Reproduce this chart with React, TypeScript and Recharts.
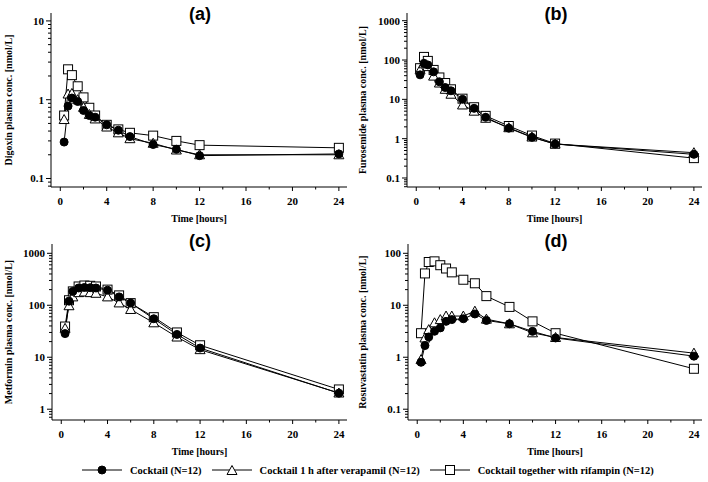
import React from 'react';
import { LineChart, Line, XAxis, YAxis } from 'recharts';

// sampling times [hours]
const times = [0.33, 0.67, 1, 1.5, 2, 2.5, 3, 4, 5, 6, 8, 10, 12, 24];

// (a) digoxin [nmol/L]
const digoxinCocktail = [0.29, 0.83, 1.05, 0.95, 0.73, 0.63, 0.6, 0.48, 0.41, 0.34, 0.27, 0.235, 0.195, 0.205];
const digoxinVerapamil = [0.56, 1.18, 1.2, 1.0, 0.8, 0.65, 0.57, 0.45, 0.38, 0.32, 0.28, 0.23, 0.2, 0.2];
const digoxinRifampin = [0.63, 2.43, 2.05, 1.48, 1.07, 0.79, 0.63, 0.48, 0.42, 0.38, 0.35, 0.3, 0.265, 0.245];

// (b) furosemide [nmol/L]
const furosemideCocktail = [42, 82, 75, 50, 28, 20, 16.5, 10, 5.9, 3.5, 1.85, 1.08, 0.73, 0.4];
const furosemideVerapamil = [56, 80, 68, 39, 26, 18, 13.5, 7.2, 5, 3.3, 1.9, 1.1, 0.73, 0.44];
const furosemideRifampin = [62, 120, 95, 56, 36, 26, 18, 10.4, 6.3, 3.8, 2.1, 1.2, 0.75, 0.32];

// (c) metformin [nmol/L]
const metforminCocktail = [28.5, 120, 185, 215, 220, 218, 215, 195, 145, 110, 55, 27.5, 15, 2.03];
const metforminVerapamil = [36, 98, 145, 175, 180, 175, 170, 145, 111, 83, 46, 24.5, 14, 2.05];
const metforminRifampin = [39, 125, 185, 230, 240, 237, 230, 200, 155, 110, 59, 30, 17, 2.4];

// (d) rosuvastatin [nmol/L]
const rosuvastatinCocktail = [0.8, 1.68, 2.46, 3.16, 3.67, 4.9, 5.3, 5.5, 6.8, 5.1, 4.4, 3.15, 2.35, 1.05];
const rosuvastatinVerapamil = [0.9, 2.35, 3.4, 4.6, 5.3, 6.2, 6.2, 6.2, 7.7, 5.4, 4.4, 2.95, 2.4, 1.2];
const rosuvastatinRifampin = [2.9, 41, 68, 70, 59, 51, 43, 31, 26.5, 15, 9.3, 4.9, 2.9, 0.6];

const seriesNames = ['Cocktail (N=12)', 'Cocktail 1 h after verapamil (N=12)', 'Cocktail together with rifampin (N=12)'];

const hourTicks = [0, 2, 4, 6, 8, 10, 12, 14, 16, 18, 20, 22, 24];

const serif = '"Liberation Serif", "Times New Roman", serif';
const sans = '"Liberation Sans", Arial, sans-serif';

const withMinors = (majors: number[], domain: [number, number]) => {
  const out: number[] = [];
  majors.forEach((m) => {
    for (let k = 1; k <= 9; k++) {
      const v = m * k;
      if (v >= domain[0] && v <= domain[1]) out.push(v);
    }
    for (let k = 2; k <= 9; k++) {
      const v = (m / 10) * k;
      if (v >= domain[0] && v <= domain[1] && !out.includes(v)) out.push(v);
    }
  });
  return out.sort((a, b) => a - b);
};

const isDecade = (v: number) => Math.abs(Math.log10(v) - Math.round(Math.log10(v))) < 1e-6;

const YTick = (props: any) => {
  const { x, y, payload } = props;
  const major = isDecade(payload.value);
  return (
    <g>
      <line x1={x} x2={x - (major ? 5 : 3)} y1={y} y2={y} stroke="#000" strokeWidth={1} />
      {major && (
        <text x={x - 7} y={y} dy={4} textAnchor="end" fontFamily={serif} fontWeight="bold" fontSize={11} fill="#000">
          {payload.value}
        </text>
      )}
    </g>
  );
};

const XTick = (props: any) => {
  const { x, y, payload } = props;
  const major = payload.value % 4 === 0;
  return (
    <g>
      <line x1={x} x2={x} y1={y} y2={y + (major ? 4 : 2.5)} stroke="#000" strokeWidth={1} />
      {major && (
        <text x={x} y={y + 18} textAnchor="middle" fontFamily={serif} fontWeight="bold" fontSize={11} fill="#000">
          {payload.value}
        </text>
      )}
    </g>
  );
};

const circleDot = (p: any) => <circle key={`c${p.index}`} cx={p.cx} cy={p.cy} r={4} fill="#000" stroke="#000" />;
const triangleDot = (p: any) => (
  <polygon
    key={`t${p.index}`}
    points={`${p.cx},${p.cy - 5} ${p.cx - 5},${p.cy + 4} ${p.cx + 5},${p.cy + 4}`}
    fill="#fff"
    stroke="#000"
    strokeWidth={1}
  />
);
const squareDot = (p: any) => (
  <rect key={`s${p.index}`} x={p.cx - 4.5} y={p.cy - 4.5} width={9} height={9} fill="#fff" stroke="#000" strokeWidth={1} />
);

interface PanelProps {
  left: number;
  top: number;
  title: string;
  yLabel: string;
  yDomain: [number, number];
  yMajors: number[];
  cocktail: number[];
  verapamil: number[];
  rifampin: number[];
  yAxisWidth: number;
  marginTop: number;
  marginRight: number;
  xAxisHeight: number;
  xLabelOffset: number;
  titleY: number;
}

const Panel = (p: PanelProps) => {
  const data = times.map((t, i) => ({ t, cocktail: p.cocktail[i], verapamil: p.verapamil[i], rifampin: p.rifampin[i] }));
  return (
    <div style={{ position: 'absolute', left: p.left, top: p.top, width: 354, height: 230 }}>
      <LineChart
        width={354}
        height={230}
        data={data}
        margin={{ top: p.marginTop, right: p.marginRight, left: 0, bottom: 0 }}
      >
        <XAxis
          dataKey="t"
          type="number"
          domain={[-0.8, 24.7]}
          allowDataOverflow
          ticks={hourTicks}
          interval={0}
          tickSize={0}
          tickMargin={0}
          tick={<XTick />}
          height={p.xAxisHeight}
          axisLine={{ stroke: '#000', strokeWidth: 1 }}
          label={{
            value: 'Time [hours]',
            position: 'insideBottom',
            offset: p.xLabelOffset,
            style: { fontFamily: serif, fontWeight: 'bold', fontSize: 10, fill: '#000' },
          }}
        />
        <YAxis
          type="number"
          scale="log"
          domain={p.yDomain}
          allowDataOverflow
          ticks={withMinors(p.yMajors, p.yDomain)}
          interval={0}
          tickSize={0}
          tickMargin={0}
          tick={<YTick />}
          width={p.yAxisWidth}
          axisLine={{ stroke: '#000', strokeWidth: 1 }}
          label={{
            value: p.yLabel,
            angle: -90,
            position: 'insideLeft',
            offset: 8,
            style: { textAnchor: 'middle', fontFamily: serif, fontWeight: 'bold', fontSize: 10, fill: '#000' },
          }}
        />
        <Line dataKey="rifampin" type="linear" stroke="#000" strokeWidth={1} dot={squareDot} isAnimationActive={false} />
        <Line dataKey="verapamil" type="linear" stroke="#000" strokeWidth={1} dot={triangleDot} isAnimationActive={false} />
        <Line dataKey="cocktail" type="linear" stroke="#000" strokeWidth={1} dot={circleDot} isAnimationActive={false} />
      </LineChart>
      <div
        style={{
          position: 'absolute',
          left: 0,
          width: p.left === 0 ? 400 : 404,
          top: p.titleY - 11,
          textAlign: 'center',
          fontFamily: sans,
          fontWeight: 'bold',
          fontSize: 18,
          lineHeight: '22px',
          pointerEvents: 'none',
        }}
      >
        {p.title}
      </div>
    </div>
  );
};

const LegendMarker = ({ kind }: { kind: number }) => (
  <svg width={40} height={14} style={{ display: 'block' }}>
    <line x1={0} x2={40} y1={7} y2={7} stroke="#000" strokeWidth={1} />
    {kind === 0 && circleDot({ cx: 20, cy: 7, index: 0 })}
    {kind === 1 && triangleDot({ cx: 20, cy: 7.5, index: 0 })}
    {kind === 2 && squareDot({ cx: 20, cy: 7, index: 0 })}
  </svg>
);

export default function App() {
  return (
    <div style={{ position: 'absolute', left: 0, top: 0, width: 708, height: 482, background: '#fff', overflow: 'hidden' }}>
      <Panel
        left={0}
        top={0}
        title="(a)"
        yLabel="Digoxin plasma conc. [nmol/L]"
        yDomain={[0.078, 12.6]}
        yMajors={[0.1, 1, 10]}
        cocktail={digoxinCocktail}
        verapamil={digoxinVerapamil}
        rifampin={digoxinRifampin}
        yAxisWidth={51}
        marginTop={13}
        marginRight={7}
        xAxisHeight={43}
        xLabelOffset={8}
        titleY={14}
      />
      <Panel
        left={354}
        top={0}
        title="(b)"
        yLabel="Furosemide plasma conc. [nmol/L]"
        yDomain={[0.059, 1570]}
        yMajors={[0.1, 1, 10, 100, 1000]}
        cocktail={furosemideCocktail}
        verapamil={furosemideVerapamil}
        rifampin={furosemideRifampin}
        yAxisWidth={53}
        marginTop={13}
        marginRight={6}
        xAxisHeight={43}
        xLabelOffset={8}
        titleY={14}
      />
      <Panel
        left={0}
        top={230}
        title="(c)"
        yLabel="Metformin plasma conc. [nmol/L]"
        yDomain={[0.62, 1510]}
        yMajors={[1, 10, 100, 1000]}
        cocktail={metforminCocktail}
        verapamil={metforminVerapamil}
        rifampin={metforminRifampin}
        yAxisWidth={52}
        marginTop={14}
        marginRight={7}
        xAxisHeight={40}
        xLabelOffset={5}
        titleY={11}
      />
      <Panel
        left={354}
        top={230}
        title="(d)"
        yLabel="Rosuvastatin plasma conc. [nmol/L]"
        yDomain={[0.062, 151]}
        yMajors={[0.1, 1, 10, 100]}
        cocktail={rosuvastatinCocktail}
        verapamil={rosuvastatinVerapamil}
        rifampin={rosuvastatinRifampin}
        yAxisWidth={54}
        marginTop={14}
        marginRight={6}
        xAxisHeight={40}
        xLabelOffset={5}
        titleY={11}
      />
      <div
        style={{
          position: 'absolute',
          left: 82,
          top: 463,
          display: 'flex',
          alignItems: 'center',
          fontFamily: serif,
          fontWeight: 'bold',
          fontSize: 10.5,
          whiteSpace: 'nowrap',
        }}
      >
        {seriesNames.map((name, i) => (
          <React.Fragment key={name}>
            <LegendMarker kind={i} />
            <span style={{ marginLeft: 8, marginRight: 10 }}>{name}</span>
          </React.Fragment>
        ))}
      </div>
    </div>
  );
}
